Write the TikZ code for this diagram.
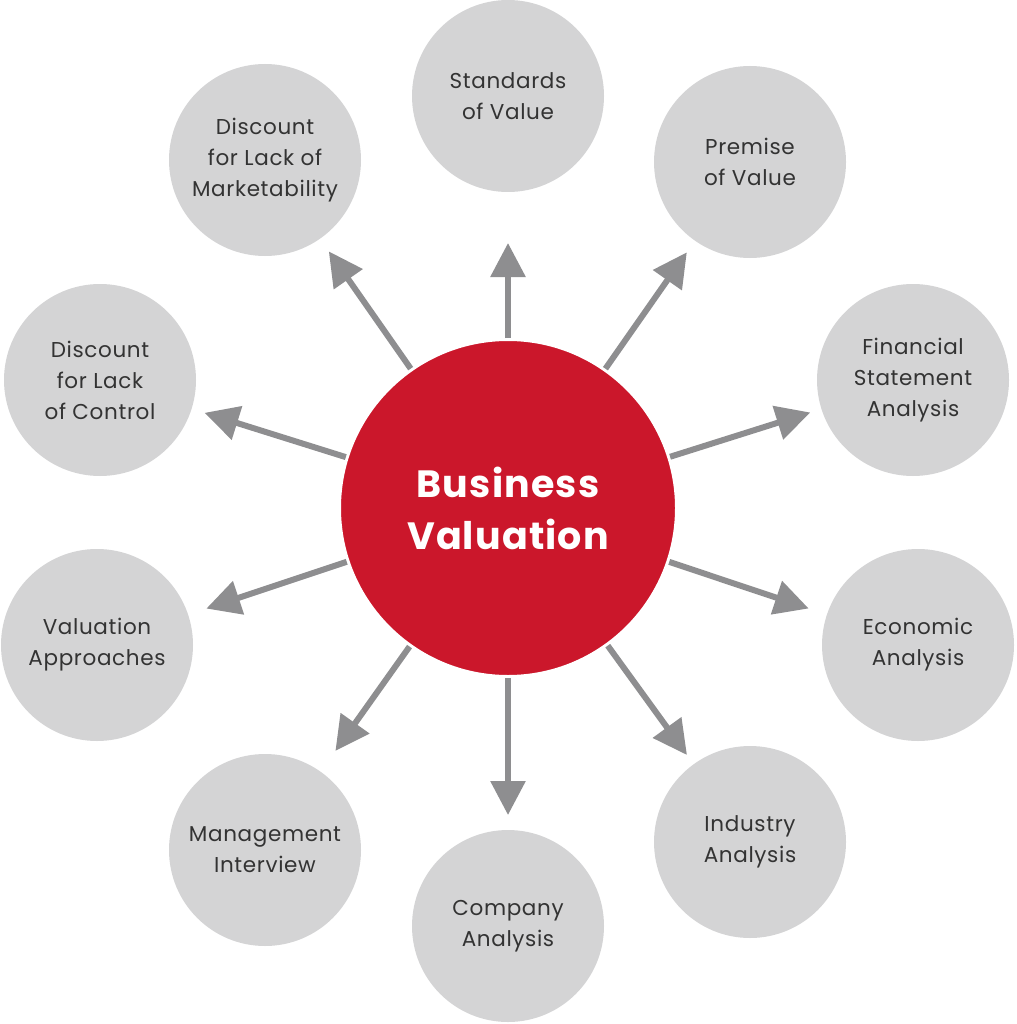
\documentclass[tikz,border=0pt]{standalone}
\usepackage{fontspec}
\setmainfont{Poppins}[LetterSpace=3]
\usetikzlibrary{arrows.meta,calc}
\definecolor{sat}{HTML}{D4D4D5}
\definecolor{bvred}{HTML}{CB172B}
\definecolor{arr}{HTML}{8E8E90}
\definecolor{txt}{HTML}{333333}
\begin{document}
\begin{tikzpicture}[x=1pt,y=-1pt,
  satnode/.style={circle,fill=sat,minimum size=192pt,inner sep=0pt,align=center,font=\fontsize{21.5}{31}\selectfont,text=txt},
  arrline/.style={draw=arr,line width=6pt,-{Triangle[length=34pt,width=34pt]}}]
\useasboundingbox (0,0) rectangle (1016,1024);
\node[circle,fill=bvred,draw=white,line width=4pt,minimum size=338pt,inner sep=0pt,align=center,text=white,font=\bfseries\fontsize{38}{52}\selectfont] (c) at (508,508) {Business\\Valuation};
\node[satnode] (s1) at (508,96) {Standards\\of Value};
\node[satnode] (s2) at (750,162) {Premise\\of Value};
\node[satnode] (s3) at (913,380) {Financial\\Statement\\Analysis};
\node[satnode] (s4) at (918,645) {Economic\\Analysis};
\node[satnode] (s5) at (750,842) {Industry\\Analysis};
\node[satnode] (s6) at (508,926) {Company\\Analysis};
\node[satnode] (s7) at (265,850) {Management\\Interview};
\node[satnode] (s8) at (97,645) {Valuation\\Approaches};
\node[satnode] (s9) at (100,380) {Discount\\for Lack\\of Control};
\node[satnode] (s10) at (265,160) {Discount\\for Lack of\\Marketability};
\foreach \i/\d in {1/265,2/312,3/317,4/317,5/305,6/307,7/298,8/318,9/318,10/313}
  \draw[arrline] ($(c.center)!170pt!(s\i.center)$) -- ($(c.center)!\d pt!(s\i.center)$);
\end{tikzpicture}
\end{document}
